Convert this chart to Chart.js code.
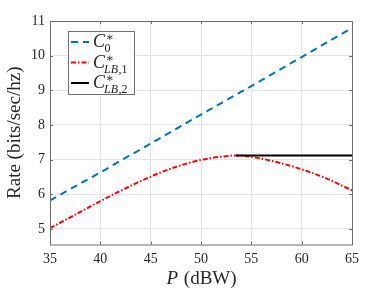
<!DOCTYPE html>
<html>
<head>
<meta charset="utf-8">
<script src="https://cdn.jsdelivr.net/npm/chart.js@4.4.1/dist/chart.umd.min.js"></script>
<style>
   body { margin: 0; background: #fff; }
   #wrap { width: 389px; height: 292px; position: relative; }
</style>
</head>
<body>
<div id="wrap"><canvas id="rateChart"></canvas></div>
<script>
// Values
const power = [35, 37.5, 40, 42.5, 45, 47.5, 50, 52.5, 53.5, 55, 57.5, 60, 62.5, 65];
const c0    = [5.82, 6.23, 6.63, 7.05, 7.46, 7.88, 8.30, 8.71, 8.88, 9.12, 9.54, 9.96, 10.38, 10.80];
const cLB1  = [5.02, 5.41, 5.80, 6.17, 6.51, 6.79, 6.99, 7.10, 7.12, 7.08, 6.93, 6.72, 6.45, 6.11];
const cLB2  = [null, null, null, null, null, null, null, null, 7.12, 7.12, 7.12, 7.12, 7.12, 7.12];

const xTicks = [35, 40, 45, 50, 55, 60, 65];
const yTicks = [5, 6, 7, 8, 9, 10, 11];

const legendSubs = ['0', 'LB,1', 'LB,2'];
const seriesColors = ['#0072BD', '#FF0000', '#000000'];
const seriesDash = [[7, 5], [5, 2, 1.5, 2], []];

const SERIF = "'Liberation Serif', 'DejaVu Serif', serif";
const TEXT = '#262626';

const toPoints = ys => power.map((p, i) => ({ x: p, y: ys[i] }));

// box around the axes with inward ticks, MATLAB style
const boxPlugin = {
   id: 'axesBox',
   afterDatasetsDraw(chart) {
      const { ctx, chartArea: a, scales } = chart;
      ctx.save();
      ctx.strokeStyle = '#6e6e6e';
      ctx.lineWidth = 1;
      ctx.strokeRect(a.left + 0.5, a.top + 0.5, a.right - a.left, a.bottom - a.top);
      ctx.beginPath();
      xTicks.forEach(v => {
         const px = Math.round(scales.x.getPixelForValue(v)) + 0.5;
         ctx.moveTo(px, a.bottom); ctx.lineTo(px, a.bottom - 3);
         ctx.moveTo(px, a.top); ctx.lineTo(px, a.top + 3);
      });
      yTicks.forEach(v => {
         const py = Math.round(scales.y.getPixelForValue(v)) + 0.5;
         ctx.moveTo(a.left, py); ctx.lineTo(a.left + 3, py);
         ctx.moveTo(a.right, py); ctx.lineTo(a.right - 3, py);
      });
      ctx.stroke();

      // x axis title: italic P, upright unit
      const cx = (a.left + a.right) / 2;
      ctx.fillStyle = TEXT;
      ctx.textBaseline = 'alphabetic';
      ctx.textAlign = 'left';
      ctx.font = `italic 19px ${SERIF}`;
      const wP = ctx.measureText('P').width;
      ctx.font = `19px ${SERIF}`;
      const wU = ctx.measureText(' (dBW)').width;
      const x0 = cx - (wP + wU) / 2;
      ctx.font = `italic 19px ${SERIF}`;
      ctx.fillText('P', x0, 284);
      ctx.font = `19px ${SERIF}`;
      ctx.fillText(' (dBW)', x0 + wP + 1, 284);
      ctx.restore();
   }
};

// legend with sub/superscripts
const legendPlugin = {
   id: 'mathLegend',
   afterDraw(chart) {
      const ctx = chart.ctx;
      ctx.save();
      ctx.fillStyle = '#fff';
      ctx.fillRect(68, 31, 66, 63);
      ctx.strokeStyle = '#707070';
      ctx.lineWidth = 1;
      ctx.strokeRect(68.5, 31.5, 66, 63);

      legendSubs.forEach((sub, i) => {
         const rowY = 42 + i * 20.5;
         // line sample
         ctx.beginPath();
         ctx.setLineDash(seriesDash[i]);
         ctx.strokeStyle = seriesColors[i];
         ctx.lineWidth = 2;
         ctx.moveTo(71, rowY);
         ctx.lineTo(89, rowY);
         ctx.stroke();
         ctx.setLineDash([]);

         // text
         ctx.fillStyle = TEXT;
         ctx.textBaseline = 'alphabetic';
         ctx.textAlign = 'left';
         ctx.font = `italic 18px ${SERIF}`;
         ctx.fillText('C', 93, rowY + 5);
         const x2 = 93 + ctx.measureText('C').width + 0.5;
         ctx.font = `12px ${SERIF}`;
         ctx.fillText('\u2217', x2, rowY - 1);
         if (sub === '0') {
            ctx.fillText('0', x2 - 1, rowY + 10);
         } else {
            ctx.font = `italic 12px ${SERIF}`;
            ctx.fillText('LB', x2 - 1.5, rowY + 10);
            const w = ctx.measureText('LB').width;
            ctx.font = `12px ${SERIF}`;
            ctx.fillText(sub.slice(2), x2 - 1 + w, rowY + 10);
         }
      });
      ctx.restore();
   }
};

const baseLine = (ys, i, order) => ({
   data: toPoints(ys),
   borderColor: seriesColors[i],
   borderDash: seriesDash[i],
   borderWidth: 2,
   pointRadius: 0,
   cubicInterpolationMode: 'monotone',
   spanGaps: false,
   order: order
});

new Chart(document.getElementById('rateChart'), {
   type: 'line',
   data: {
      datasets: [
         baseLine(c0, 0, 3),
         baseLine(cLB1, 1, 2),
         baseLine(cLB2, 2, 1)
      ]
   },
   options: {
      responsive: true,
      maintainAspectRatio: false,
      animation: false,
      layout: { padding: { top: 21, right: 37, left: 0, bottom: 0 } },
      plugins: { legend: { display: false }, tooltip: { enabled: false } },
      scales: {
         x: {
            type: 'linear', min: 35, max: 65,
            afterBuildTicks: s => { s.ticks = xTicks.map(v => ({ value: v })); },
            afterFit: s => { s.height = 47.5; },
            grid: { color: '#e4e4e4', drawTicks: false },
            border: { display: false },
            ticks: { padding: 6, color: TEXT, maxRotation: 0, autoSkip: false, font: { family: SERIF, size: 14 } },
            title: { display: false }
         },
         y: {
            type: 'linear', min: 4.55, max: 11,
            afterBuildTicks: s => { s.ticks = yTicks.map(v => ({ value: v })); },
            afterFit: s => { s.width = 50; },
            grid: { color: '#e4e4e4', drawTicks: false },
            border: { display: false },
            ticks: { padding: 5, color: TEXT, font: { family: SERIF, size: 14 } },
            title: {
               display: true, text: 'Rate (bits/sec/hz)', color: TEXT,
               font: { family: SERIF, size: 19 },
               padding: { top: 4, bottom: 0 }
            }
         }
      }
   },
   plugins: [boxPlugin, legendPlugin]
});
</script>
</body>
</html>
